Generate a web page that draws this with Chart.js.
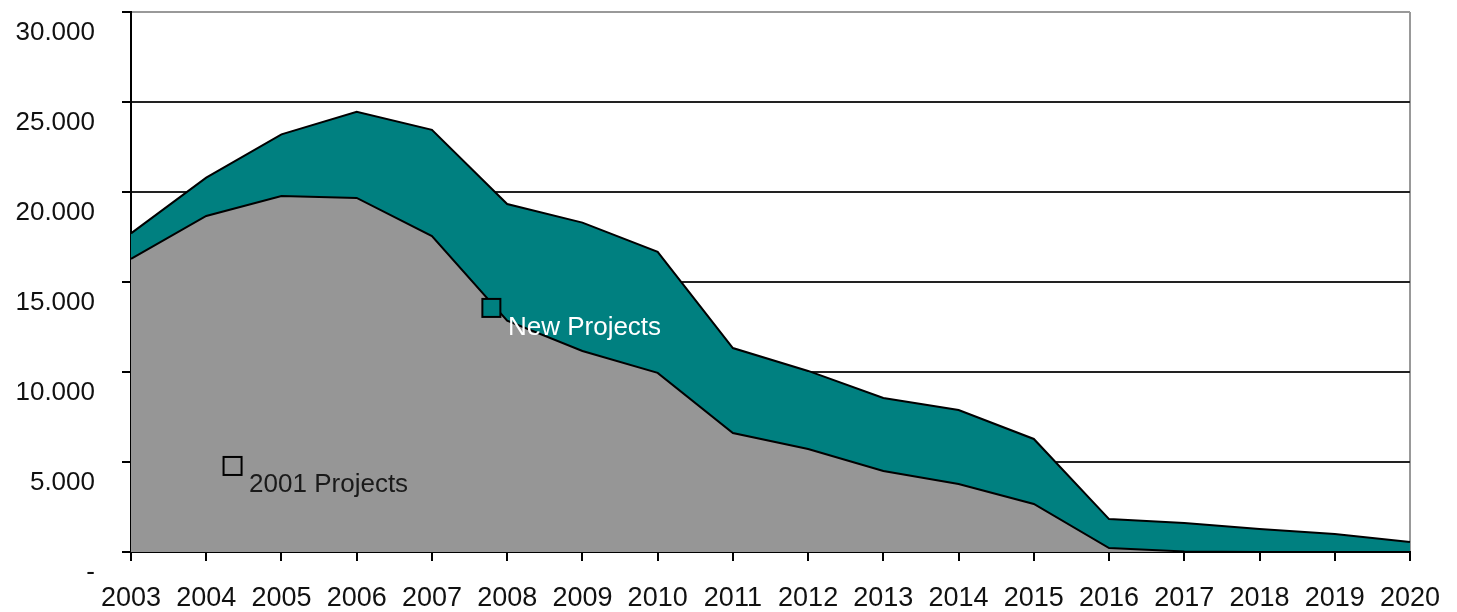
<!DOCTYPE html>
<html>
<head>
<meta charset="utf-8">
<script src="https://cdn.jsdelivr.net/npm/chart.js@4.4.1/dist/chart.umd.min.js"></script>
<style>
  html, body { margin: 0; padding: 0; background: #fff; }
  #wrap { width: 1457px; height: 612px; }
</style>
</head>
<body>
<div id="wrap"><canvas id="chartProjects"></canvas></div>
<script>
// values
const years = ['2003', '2004', '2005', '2006', '2007', '2008', '2009', '2010', '2011',
  '2012', '2013', '2014', '2015', '2016', '2017', '2018', '2019', '2020'];
const projects2001 = [16280, 18670, 19780, 19670, 17550, 12850, 11170, 9950, 6610,
  5720, 4500, 3780, 2670, 220, 30, 0, 0, 0];
const newProjects = [1420, 2130, 3420, 4780, 5900, 6480, 7130, 6720, 4720,
  4340, 4060, 4110, 3610, 1610, 1580, 1280, 1000, 560];
const yTicks = [0, 5000, 10000, 15000, 20000, 25000, 30000];

// in-chart labels, anchored in data units (category index, value)
const seriesLabels = [
  { text: '2001 Projects', marker: [1.35, 4780], at: [1.57, 3720], fill: '#969696', color: '#1a1a1a' },
  { text: 'New Projects', marker: [4.79, 13560], at: [5.01, 12440], fill: '#008080', color: '#ffffff' },
];

const FONT = "'Liberation Sans', Arial, sans-serif";

function fmtThousands(v) {
  if (v === 0) return '-';
  return String(v).replace(/\B(?=(\d{3})+(?!\d))/g, '.');
}

const labelPlugin = {
  id: 'seriesLabels',
  afterDatasetsDraw(chart) {
    const { ctx, scales: { x, y } } = chart;
    ctx.save();
    seriesLabels.forEach(l => {
      const mx = x.getPixelForValue(l.marker[0]);
      const my = y.getPixelForValue(l.marker[1]);
      ctx.fillStyle = l.fill;
      ctx.strokeStyle = '#000';
      ctx.lineWidth = 2;
      ctx.fillRect(mx - 9, my - 9, 18, 18);
      ctx.strokeRect(mx - 9, my - 9, 18, 18);
      ctx.fillStyle = l.color;
      ctx.font = '26px ' + FONT;
      ctx.textAlign = 'left';
      ctx.textBaseline = 'middle';
      ctx.fillText(l.text, x.getPixelForValue(l.at[0]), y.getPixelForValue(l.at[1]));
    });
    ctx.restore();
  },
};

const ctx = document.getElementById('chartProjects').getContext('2d');
new Chart(ctx, {
  type: 'line',
  data: {
    labels: years,
    datasets: [
      {
        label: '2001 Projects',
        data: projects2001,
        backgroundColor: '#969696',
        borderColor: '#000',
        borderWidth: 2,
        fill: 'origin',
        pointRadius: 0,
        tension: 0,
      },
      {
        label: 'New Projects',
        data: newProjects,
        backgroundColor: '#008080',
        borderColor: '#000',
        borderWidth: 2,
        fill: '-1',
        pointRadius: 0,
        tension: 0,
      },
    ],
  },
  options: {
    responsive: true,
    maintainAspectRatio: false,
    animation: false,
    layout: { padding: { top: 12, right: 47, left: 0, bottom: 0 } },
    plugins: {
      legend: { display: false },
      tooltip: { enabled: false },
    },
    scales: {
      x: {
        offset: false,
        afterFit: s => { s.height = 60; s.paddingLeft = 0; s.paddingRight = 0; },
        border: { color: '#000', width: 2 },
        grid: {
          color: c => (c.index === years.length - 1 ? '#999' : 'rgba(0,0,0,0)'),
          tickColor: '#000',
          tickLength: 9,
          lineWidth: 2,
        },
        ticks: {
          autoSkip: false,
          maxRotation: 0,
          padding: 21,
          color: '#111',
          font: { family: FONT, size: 27 },
        },
      },
      y: {
        stacked: true,
        min: 0,
        max: 30000,
        afterFit: s => { s.width = 131; s.paddingTop = 0; s.paddingBottom = 0; },
        afterBuildTicks: s => { s.ticks = yTicks.map(v => ({ value: v })); },
        border: { color: '#000', width: 2 },
        grid: {
          color: c => (c.tick && c.tick.value === 30000 ? '#999' : '#222'),
          tickColor: '#000',
          tickLength: 9,
          lineWidth: 2,
        },
        ticks: {
          padding: 27,
          labelOffset: 21,
          color: '#111',
          font: { family: FONT, size: 26 },
          callback: v => fmtThousands(v),
        },
      },
    },
  },
  plugins: [labelPlugin],
});
</script>
</body>
</html>
